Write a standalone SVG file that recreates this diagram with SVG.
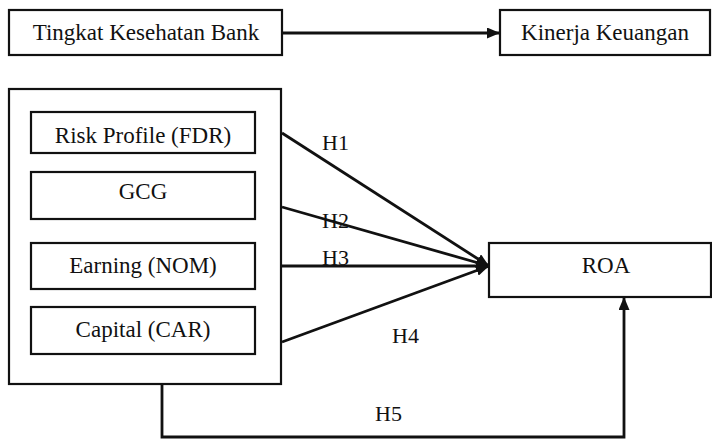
<svg xmlns="http://www.w3.org/2000/svg" width="712" height="439" viewBox="0 0 712 439">
<style>
.box{fill:#fff;stroke:#111;stroke-width:2.2}
.t{font-family:'Liberation Serif',serif;font-size:23px;fill:#111;text-anchor:middle}
.h{font-family:'Liberation Serif',serif;font-size:22px;fill:#111}
.c{fill:none;stroke:#111;stroke-width:2.8}
</style>
<defs>
<marker id="ah" viewBox="0 0 13 11" refX="13" refY="5.5" markerWidth="13" markerHeight="11" markerUnits="userSpaceOnUse" orient="auto">
<path d="M0,0 L13,5.5 L0,11 Z" fill="#111"/>
</marker>
</defs>
<rect width="712" height="439" fill="#fff"/>
<g id="connectors">
<line class="c" x1="282" y1="33" x2="500" y2="33" marker-end="url(#ah)"/>
<line class="c" x1="282" y1="133" x2="489" y2="266" marker-end="url(#ah)"/>
<line class="c" x1="282" y1="207" x2="489" y2="266" marker-end="url(#ah)"/>
<line class="c" x1="282" y1="266" x2="489" y2="266" marker-end="url(#ah)"/>
<line class="c" x1="282" y1="342" x2="489" y2="266" marker-end="url(#ah)"/>
<polyline class="c" points="162,384 162,437 624,437 624,297" marker-end="url(#ah)"/>
<text class="h" x="322" y="150" font-family="Liberation Serif">H1</text>
<text class="h" x="322" y="228" font-family="Liberation Serif">H2</text>
<text class="h" x="322" y="265" font-family="Liberation Serif">H3</text>
<text class="h" x="392" y="343" font-family="Liberation Serif">H4</text>
<text class="h" x="375" y="421" font-family="Liberation Serif">H5</text>
</g>
<g id="tingkat">
<rect class="box" x="9" y="10" width="273" height="45"/>
<text class="t" x="146" y="40" font-family="Liberation Serif">Tingkat Kesehatan Bank</text>
</g>
<g id="kinerja">
<rect class="box" x="500" y="10" width="210" height="45"/>
<text class="t" x="605" y="40" font-family="Liberation Serif">Kinerja Keuangan</text>
</g>
<g id="group">
<rect class="box" x="9" y="89" width="272" height="295"/>
</g>
<g id="risk">
<rect class="box" x="31" y="112" width="224" height="41"/>
<text class="t" x="143" y="143" font-family="Liberation Serif">Risk Profile (FDR)</text>
</g>
<g id="gcg">
<rect class="box" x="31" y="172" width="224" height="47"/>
<text class="t" x="143" y="199" font-family="Liberation Serif">GCG</text>
</g>
<g id="earning">
<rect class="box" x="31" y="243" width="224" height="46"/>
<text class="t" x="143" y="273" font-family="Liberation Serif">Earning (NOM)</text>
</g>
<g id="capital">
<rect class="box" x="31" y="307" width="224" height="47"/>
<text class="t" x="143" y="337" font-family="Liberation Serif">Capital (CAR)</text>
</g>
<g id="roa">
<rect class="box" x="489" y="243" width="222" height="54"/>
<text class="t" x="606" y="273" font-family="Liberation Serif">ROA</text>
</g>
</svg>
